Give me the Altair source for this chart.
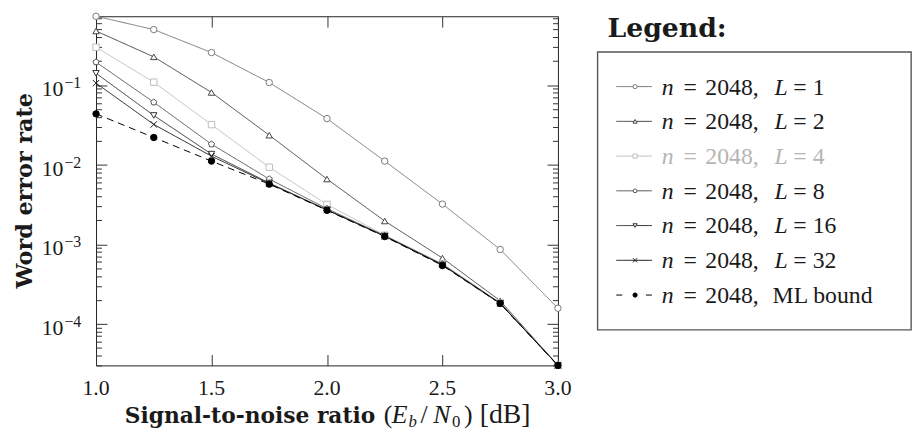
import altair as alt
import pandas as pd

# ---------------- data ----------------
snr = [1.0, 1.25, 1.5, 1.75, 2.0, 2.25, 2.5, 2.75, 3.0]
series_names = ["L=1", "L=2", "L=4", "L=8", "L=16", "L=32", "ML"]
wer_L1 = [0.735, 0.50, 0.257, 0.108, 0.038, 0.0111, 0.0032, 8.6e-4, 1.57e-4]
wer_L2 = [0.48, 0.227, 0.081, 0.0235, 0.0066, 0.00196, 6.7e-4, 1.95e-4, 3.0e-5]
wer_L4 = [0.30, 0.109, 0.0319, 0.0093, 0.00317, 0.0013, 5.7e-4, 1.85e-4, 3.0e-5]
wer_L8 = [0.195, 0.061, 0.0181, 0.0066, 0.0028, 0.00128, 5.6e-4, 1.82e-4, 3.0e-5]
wer_L16 = [0.141, 0.0416, 0.0136, 0.0059, 0.0027, 0.00127, 5.5e-4, 1.8e-4, 3.0e-5]
wer_L32 = [0.106, 0.0321, 0.0128, 0.0058, 0.0027, 0.00126, 5.5e-4, 1.8e-4, 3.0e-5]
wer_ML = [0.0436, 0.022, 0.0111, 0.0057, 0.00267, 0.00125, 5.4e-4, 1.8e-4, 3.0e-5]
all_wer = [wer_L1, wer_L2, wer_L4, wer_L8, wer_L16, wer_L32, wer_ML]

legend_L = ["L", "L", "L", "L", "L", "L", ""]
legend_val = ["= 1", "= 2", "= 4", "= 8", "= 16", "= 32", ""]
legend_ml = ["", "", "", "", "", "", "ML bound"]

x_ticks = [1.0, 1.5, 2.0, 2.5, 3.0]
x_tick_labels = ["1.0", "1.5", "2.0", "2.5", "3.0"]
y_major = [0.1, 0.01, 0.001, 0.0001]
y_major_exp = ["\u22121", "\u22122", "\u22123", "\u22124"]
y_domain = [3.0e-5, 0.735]

# ---------------- styles ----------------
line_colors = ["#777777", "#444444", "#bdbdbd", "#555555", "#333333", "#1a1a1a", "#000000"]
text_colors = ["#1a1a1a", "#1a1a1a", "#b5b5b5", "#1a1a1a", "#1a1a1a", "#1a1a1a", "#1a1a1a"]
fill_colors = ["white", "white", "white", "white", "white", "white", "#000000"]
pentagon = "M0,-1L0.951,-0.309L0.588,0.809L-0.588,0.809L-0.951,-0.309Z"
xmark = "M-1,-1L1,1M-1,1L1,-1"
shapes = ["circle", "triangle-up", "square", pentagon, "triangle-down", xmark, "circle"]
plot_dashes = [[1, 0]] * 6 + [[7, 5]]
leg_dashes = [[1, 0]] * 6 + [[6, 24]]

y_ticks = [k * 10.0 ** e for e in range(-5, 0) for k in range(1, 10)]
y_ticks = [v for v in y_ticks if y_domain[0] * 0.999 <= v <= y_domain[1]]

rows = []
for name, vals in zip(series_names, all_wer):
    for s, v in zip(snr, vals):
        rows.append({"series": name, "snr": s, "wer": v})
df = pd.DataFrame(rows)

W, H = 467, 353
SERIF = "Liberation Serif"
BOLD = "DejaVu Serif"
TXT = "#1a1a1a"

xs = alt.Scale(domain=[1.0, 3.0], nice=False, zero=False)
ys = alt.Scale(type="log", domain=y_domain, nice=False)
color_scale = alt.Scale(domain=series_names, range=line_colors)
fill_scale = alt.Scale(domain=series_names, range=fill_colors)
shape_scale = alt.Scale(domain=series_names, range=shapes)

major_test = "datum.value == 0.1 || datum.value == 0.01 || datum.value == 0.001 || datum.value == 0.0001"
ytick_size = {"condition": {"test": major_test, "value": 11}, "value": 5.5}


def yaxis(orient):
    return alt.Axis(orient=orient, offset=-W, values=y_ticks, labels=False, domain=False,
                    grid=False, title=None, ticks=True, tickColor="#333333", tickWidth=1,
                    tickSize=ytick_size)


def xaxis(orient):
    return alt.Axis(orient=orient, offset=-H, values=x_ticks, labels=False, domain=False,
                    grid=False, title=None, ticks=True, tickColor="#333333", tickWidth=1,
                    tickSize=11)


base = alt.Chart(df)
lines = base.mark_line(strokeWidth=1).encode(
    x=alt.X("snr:Q", scale=xs, axis=xaxis("top")),
    y=alt.Y("wer:Q", scale=ys, axis=yaxis("right")),
    color=alt.Color("series:N", scale=color_scale, legend=None),
    strokeDash=alt.StrokeDash("series:N", scale=alt.Scale(domain=series_names, range=plot_dashes), legend=None),
)
points = base.mark_point(filled=True, strokeWidth=1, opacity=1).encode(
    x=alt.X("snr:Q", scale=xs, axis=xaxis("bottom")),
    y=alt.Y("wer:Q", scale=ys, axis=yaxis("left")),
    shape=alt.Shape("series:N", scale=shape_scale, legend=None),
    fill=alt.Fill("series:N", scale=fill_scale, legend=None),
    stroke=alt.Stroke("series:N", scale=color_scale, legend=None),
    size=alt.value(42),
)

xlab = alt.Chart(pd.DataFrame({"x": x_ticks, "lab": x_tick_labels})).mark_text(
    font=SERIF, fontSize=22, baseline="alphabetic", align="center", color=TXT
).encode(x=alt.X("x:Q", scale=xs, axis=None), y=alt.value(H + 30), text="lab:N")

ylab_df = pd.DataFrame({"v": y_major, "b": ["10"] * len(y_major), "e": y_major_exp})
ylab_b = alt.Chart(ylab_df).mark_text(
    font=SERIF, fontSize=22, baseline="alphabetic", align="right", dy=11, color=TXT
).encode(y=alt.Y("v:Q", scale=ys, axis=None), x=alt.value(-33), text="b:N")
ylab_e = alt.Chart(ylab_df).mark_text(
    font=SERIF, fontSize=16, baseline="alphabetic", align="left", dy=3, color=TXT
).encode(y=alt.Y("v:Q", scale=ys, axis=None), x=alt.value(-32), text="e:N")


def piece(text, x, y, font=SERIF, size=26, weight="normal", style="normal", angle=0,
          align="left", baseline="alphabetic"):
    return alt.Chart(pd.DataFrame({"t": [text]})).mark_text(
        font=font, fontSize=size, fontWeight=weight, fontStyle=style, angle=angle,
        align=align, baseline=baseline, color=TXT
    ).encode(x=alt.value(x), y=alt.value(y), text="t:N")


ytitle = piece("Word error rate", -72, H / 2, font=BOLD, size=22.5, weight="bold",
               angle=270, align="center", baseline="middle")
TY = H + 58
xtitle = [
    piece("Signal-to-noise ratio", 29, TY, font=BOLD, size=22, weight="bold"),
    piece("(", 291, TY),
    piece("E", 299, TY, style="italic"),
    piece("b", 316, TY + 4, size=17, style="italic"),
    piece("/", 328, TY),
    piece("N", 341, TY, style="italic"),
    piece("0", 360, TY + 4, size=17),
    piece(")", 372, TY),
    piece("[dB]", 388, TY, size=28),
]

plot = alt.layer(lines, points, xlab, ylab_b, ylab_e, ytitle, *xtitle).resolve_axis(
    x="independent", y="independent"
).properties(width=W, height=H, view=alt.ViewBackground(stroke="#222222", strokeWidth=1))

# ---------------- legend ----------------
LW, LH = 317, 281
legdf = pd.DataFrame({
    "series": series_names,
    "n": ["n"] * 7,
    "eq": ["="] * 7,
    "num": ["2048,"] * 7,
    "Lv": legend_L,
    "val": legend_val,
    "ml": legend_ml,
    "tc": text_colors,
})
leg_y = alt.Y("series:N", scale=alt.Scale(type="point", domain=series_names, padding=1.0), axis=None)
lb = alt.Chart(legdf)
leg_rule = lb.mark_rule(strokeWidth=1).encode(
    y=leg_y, x=alt.value(19), x2=alt.value(55),
    color=alt.Color("series:N", scale=color_scale, legend=None),
    strokeDash=alt.StrokeDash("series:N", scale=alt.Scale(domain=series_names, range=leg_dashes), legend=None),
)
leg_pts = lb.mark_point(filled=True, strokeWidth=1, opacity=1).encode(
    y=leg_y, x=alt.value(38),
    shape=alt.Shape("series:N", scale=shape_scale, legend=None),
    fill=alt.Fill("series:N", scale=fill_scale, legend=None),
    stroke=alt.Stroke("series:N", scale=color_scale, legend=None),
    size=alt.value(18),
)


def leg_text(field, x, style="normal"):
    return lb.mark_text(font=SERIF, fontSize=24, fontStyle=style, align="left",
                        baseline="middle", dy=1).encode(
        y=leg_y, x=alt.value(x), text=f"{field}:N",
        color=alt.Color("tc:N", scale=None),
    )


legend_box = alt.layer(
    leg_rule, leg_pts,
    leg_text("n", 65, "italic"),
    leg_text("eq", 87),
    leg_text("num", 109),
    leg_text("Lv", 179, "italic"),
    leg_text("val", 198),
    leg_text("ml", 177),
).properties(
    width=LW, height=LH,
    view=alt.ViewBackground(stroke="#555555", strokeWidth=1.4),
)

legend_title = piece("Legend:", 10, 21, font=BOLD, size=27, weight="bold").properties(
    width=LW, height=26, view=alt.ViewBackground(stroke=None)
)

legend_col = alt.vconcat(legend_title, legend_box, spacing=10, bounds="flush")

chart = alt.hconcat(plot, legend_col, spacing=40, bounds="flush").resolve_scale(
    color="independent", strokeDash="independent", stroke="independent",
    fill="independent", shape="independent"
).properties(
    padding={"left": 5, "top": 0, "right": 2, "bottom": 0}
).configure(font=SERIF)

chart.save("out.html", embed_options={"renderer": "svg", "actions": False})
